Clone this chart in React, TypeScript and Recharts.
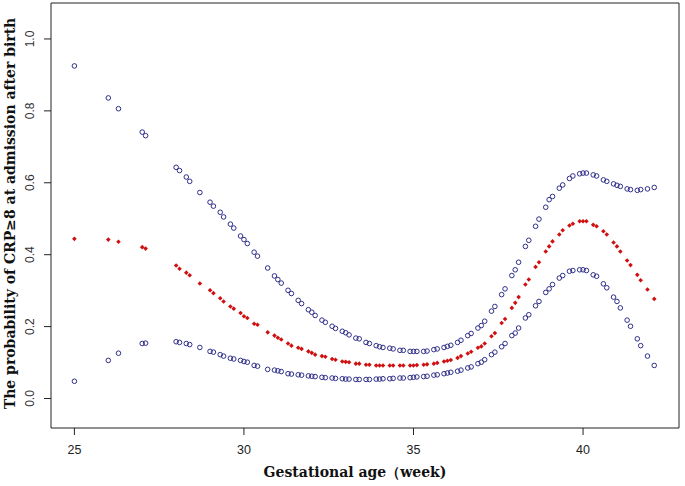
import React from 'react';
import {
  ScatterChart,
  Scatter,
  XAxis,
  YAxis,
  ReferenceArea,
  Label,
} from 'recharts';

// gestational age in weeks (weeks + days/7, rounded to 0.1)
const ages = [
  25.0, 26.0, 26.3, 27.0, 27.1, 28.0, 28.1, 28.3, 28.4, 28.7,
  29.0, 29.1, 29.3, 29.4, 29.6, 29.7, 29.9, 30.0, 30.1, 30.3,
  30.4, 30.7, 30.9, 31.0, 31.1, 31.3, 31.4, 31.6, 31.7, 31.9,
  32.0, 32.1, 32.3, 32.4, 32.6, 32.7, 32.9, 33.0, 33.1, 33.3,
  33.4, 33.6, 33.7, 33.9, 34.0, 34.1, 34.3, 34.4, 34.6, 34.7,
  34.9, 35.0, 35.1, 35.3, 35.4, 35.6, 35.7, 35.9, 36.0, 36.1,
  36.3, 36.4, 36.6, 36.7, 36.9, 37.0, 37.1, 37.3, 37.4, 37.6,
  37.7, 37.9, 38.0, 38.1, 38.3, 38.4, 38.6, 38.7, 38.9, 39.0,
  39.1, 39.3, 39.4, 39.6, 39.7, 39.9, 40.0, 40.1, 40.3, 40.4,
  40.6, 40.7, 40.9, 41.0, 41.1, 41.3, 41.4, 41.6, 41.7, 41.9,
  42.1,
];

const upperCI = [
  0.925, 0.836, 0.806, 0.741, 0.731, 0.643, 0.634, 0.616, 0.604, 0.573,
  0.546, 0.535, 0.518, 0.505, 0.485, 0.474, 0.452, 0.442, 0.431, 0.407,
  0.396, 0.363, 0.341, 0.331, 0.321, 0.301, 0.292, 0.273, 0.264, 0.247,
  0.240, 0.231, 0.218, 0.212, 0.201, 0.195, 0.187, 0.183, 0.177, 0.168,
  0.166, 0.156, 0.153, 0.147, 0.144, 0.142, 0.140, 0.138, 0.134, 0.134,
  0.131, 0.131, 0.131, 0.131, 0.132, 0.136, 0.138, 0.142, 0.145, 0.148,
  0.156, 0.162, 0.175, 0.181, 0.196, 0.203, 0.215, 0.243, 0.256, 0.289,
  0.305, 0.342, 0.358, 0.379, 0.423, 0.440, 0.479, 0.499, 0.532, 0.553,
  0.562, 0.585, 0.594, 0.612, 0.619, 0.625, 0.627, 0.627, 0.622, 0.619,
  0.608, 0.604, 0.597, 0.593, 0.590, 0.583, 0.581, 0.579, 0.581, 0.583,
  0.587,
];

const fitted = [
  0.444, 0.442, 0.436, 0.421, 0.417, 0.370, 0.361, 0.350, 0.343, 0.320,
  0.301, 0.293, 0.279, 0.270, 0.256, 0.250, 0.238, 0.229, 0.224, 0.208,
  0.205, 0.184, 0.175, 0.169, 0.164, 0.153, 0.147, 0.141, 0.138, 0.131,
  0.127, 0.122, 0.118, 0.116, 0.110, 0.108, 0.103, 0.102, 0.101, 0.097,
  0.097, 0.094, 0.094, 0.092, 0.092, 0.092, 0.092, 0.092, 0.092, 0.092,
  0.092, 0.092, 0.093, 0.094, 0.095, 0.097, 0.099, 0.103, 0.105, 0.107,
  0.113, 0.118, 0.125, 0.130, 0.141, 0.145, 0.153, 0.173, 0.182, 0.210,
  0.221, 0.252, 0.266, 0.282, 0.317, 0.331, 0.366, 0.379, 0.409, 0.423,
  0.437, 0.456, 0.468, 0.481, 0.486, 0.493, 0.493, 0.493, 0.483, 0.479,
  0.465, 0.456, 0.434, 0.423, 0.409, 0.384, 0.371, 0.344, 0.329, 0.303,
  0.277,
];

const lowerCI = [
  0.048, 0.106, 0.126, 0.153, 0.154, 0.158, 0.156, 0.153, 0.150, 0.142,
  0.131, 0.129, 0.122, 0.118, 0.112, 0.110, 0.106, 0.103, 0.101, 0.092,
  0.090, 0.081, 0.079, 0.077, 0.075, 0.069, 0.068, 0.066, 0.065, 0.063,
  0.062, 0.061, 0.059, 0.058, 0.057, 0.056, 0.055, 0.054, 0.054, 0.053,
  0.053, 0.053, 0.053, 0.054, 0.054, 0.055, 0.055, 0.056, 0.057, 0.057,
  0.058, 0.059, 0.060, 0.061, 0.062, 0.065, 0.066, 0.069, 0.071, 0.073,
  0.076, 0.079, 0.085, 0.088, 0.097, 0.101, 0.108, 0.122, 0.129, 0.144,
  0.153, 0.175, 0.182, 0.196, 0.224, 0.233, 0.258, 0.270, 0.295, 0.305,
  0.317, 0.335, 0.342, 0.354, 0.356, 0.358, 0.358, 0.356, 0.344, 0.340,
  0.319, 0.308, 0.282, 0.270, 0.252, 0.218, 0.201, 0.166, 0.147, 0.118,
  0.092,
];

const xTicks = [25, 30, 35, 40];
const yTicks = [0, 0.2, 0.4, 0.6, 0.8, 1.0];

const xDomain: [number, number] = [24.31, 42.83];
const yDomain: [number, number] = [-0.082, 1.1];

const upperData = ages.map((age, i) => ({ age, p: upperCI[i] }));
const fitData = ages.map((age, i) => ({ age, p: fitted[i] }));
const lowerData = ages.map((age, i) => ({ age, p: lowerCI[i] }));

const BLUE = '#2f2f8a';
const RED = '#d01010';
const tickFont = '"Liberation Sans", Arial, sans-serif';
const titleFont = '"DejaVu Serif", "Liberation Serif", serif';

const OpenCircle = (props: any) => {
  const { cx, cy } = props;
  if (cx == null || cy == null) return null;
  return <circle cx={cx} cy={cy} r={2.3} fill="none" stroke={BLUE} strokeWidth={1} />;
};

const Diamond = (props: any) => {
  const { cx, cy } = props;
  if (cx == null || cy == null) return null;
  const s = 2.3;
  return (
    <polygon
      points={`${cx},${cy - s} ${cx + s},${cy} ${cx},${cy + s} ${cx - s},${cy}`}
      fill={RED}
    />
  );
};

const XTick = (props: any) => {
  const { x, y, payload } = props;
  return (
    <text
      x={x}
      y={y + 13}
      textAnchor="middle"
      dominantBaseline="central"
      fontFamily={tickFont}
      fontSize={12.5}
      fill="#222"
    >
      {payload.value}
    </text>
  );
};

const YTick = (props: any) => {
  const { x, y, payload } = props;
  const tx = x - 12;
  return (
    <text
      x={tx}
      y={y}
      transform={`rotate(-90, ${tx}, ${y})`}
      textAnchor="middle"
      dominantBaseline="central"
      fontFamily={tickFont}
      fontSize={12}
      fill="#333"
    >
      {Number(payload.value).toFixed(1)}
    </text>
  );
};

const YTitle = (props: any) => {
  const vb = props.viewBox || {};
  const cy = vb.y + vb.height / 2 - 2;
  const cx = 10;
  return (
    <text
      x={cx}
      y={cy}
      transform={`rotate(-90, ${cx}, ${cy})`}
      textAnchor="middle"
      dominantBaseline="central"
      fontFamily={titleFont}
      fontWeight="bold"
      fontSize={14}
      fill="#111"
    >
      The probability of CRP≥8 at admission after birth
    </text>
  );
};

const XTitle = (props: any) => {
  const vb = props.viewBox || {};
  const cx = vb.x + vb.width / 2 - 10;
  return (
    <text
      x={cx}
      y={472}
      textAnchor="middle"
      dominantBaseline="central"
      fontFamily={titleFont}
      fontWeight="bold"
      fontSize={14}
      fill="#111"
    >
      Gestational age（week)
    </text>
  );
};

export default function App() {
  return (
    <div style={{ width: 685, height: 486, background: '#fff' }}>
      <style>{'body{margin:0}'}</style>
      <ScatterChart
        width={685}
        height={486}
        margin={{ top: 3, right: 6, bottom: 0, left: 0 }}
      >
        <XAxis
          type="number"
          dataKey="age"
          domain={xDomain}
          ticks={xTicks}
          allowDataOverflow
          height={58}
          axisLine={false}
          tickSize={7}
          tickLine={{ stroke: '#222' }}
          tick={<XTick />}
          interval={0}
        >
          <Label content={<XTitle />} />
        </XAxis>
        <YAxis
          type="number"
          dataKey="p"
          domain={yDomain}
          ticks={yTicks}
          allowDataOverflow
          width={51}
          axisLine={false}
          tickSize={7}
          tickLine={{ stroke: '#222' }}
          tick={<YTick />}
          interval={0}
        >
          <Label content={<YTitle />} />
        </YAxis>
        <ReferenceArea
          x1={xDomain[0]}
          x2={xDomain[1]}
          y1={yDomain[0]}
          y2={yDomain[1]}
          fill="none"
          fillOpacity={0}
          stroke="#222"
          strokeWidth={1}
          strokeOpacity={1}
        />
        <Scatter data={upperData} shape={<OpenCircle />} isAnimationActive={false} />
        <Scatter data={fitData} shape={<Diamond />} isAnimationActive={false} />
        <Scatter data={lowerData} shape={<OpenCircle />} isAnimationActive={false} />
      </ScatterChart>
    </div>
  );
}
